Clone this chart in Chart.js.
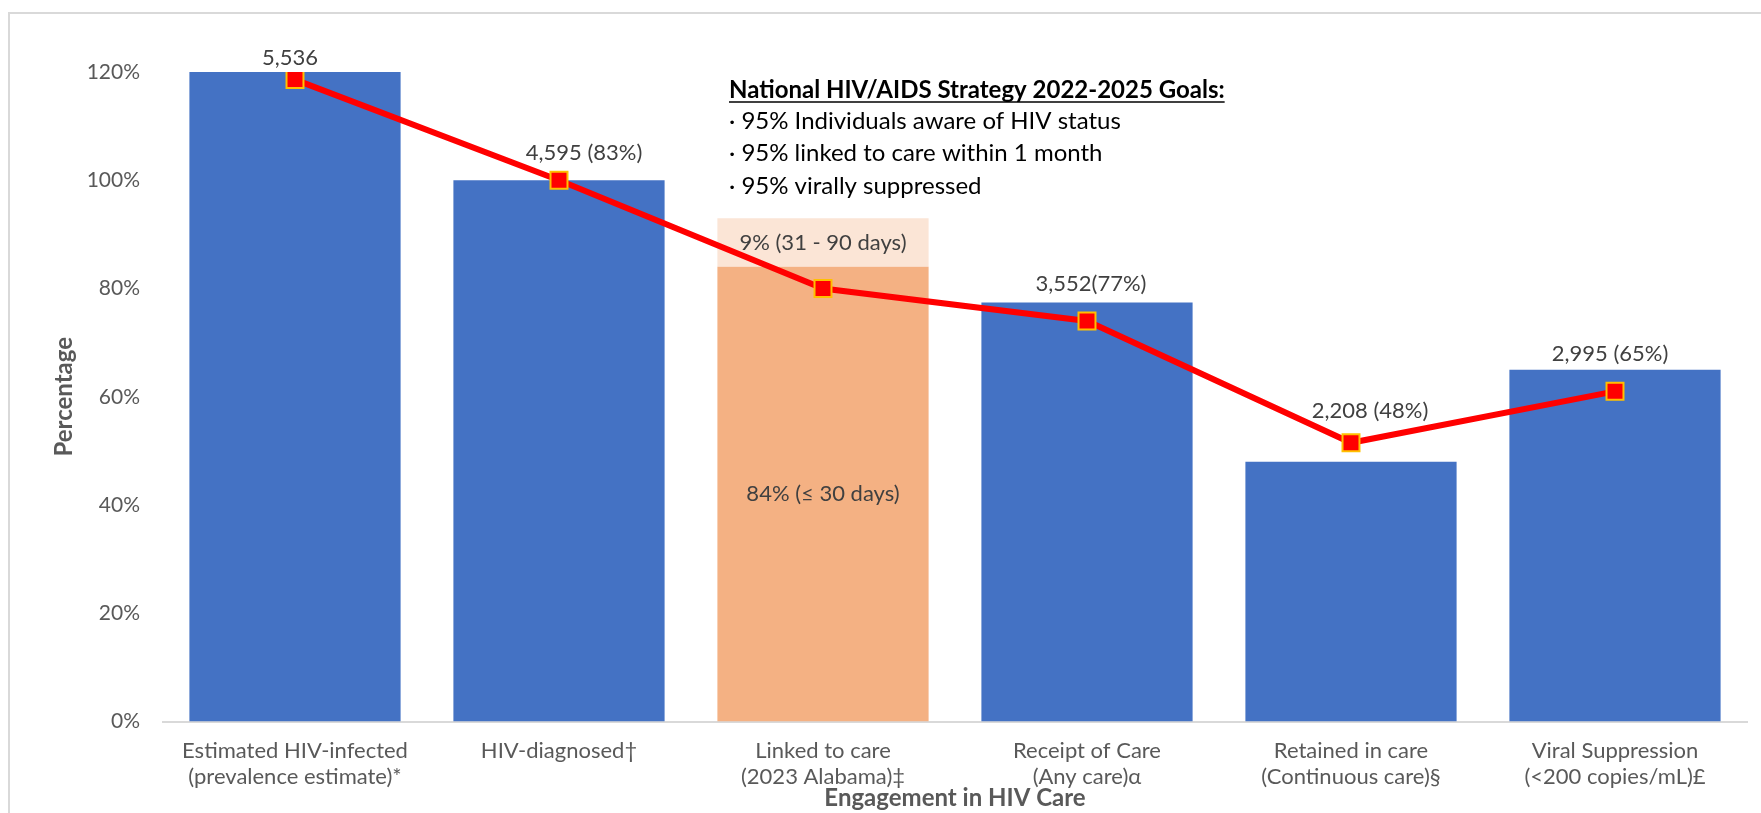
<!DOCTYPE html>
<html><head><meta charset="utf-8">
<script src="https://cdn.jsdelivr.net/npm/chart.js@4"></script>
<style>html,body{margin:0;padding:0;background:#fff;overflow:hidden}</style>
</head><body>
<canvas id="c" width="1761" height="813" style="display:block;width:1761px;height:813px"></canvas>
<script>
// ---- data ----
const categories = [
  ["Estimated HIV-infected", "(prevalence estimate)*"],
  ["HIV-diagnosed†"],
  ["Linked to care", "(2023 Alabama)‡"],
  ["Receipt of Care", "(Any care)α"],
  ["Retained in care", "(Continuous care)§"],
  ["Viral Suppression", "(<200 copies/mL)£"]
];
const cascadeValues = [120, 100, null, 77.4, 48, 65];
const linkedWithin30 = [null, null, 84, null, null, null];
const linked31to90 = [null, null, 9, null, null, null];
const trendValues = [118.6, 100, 80, 74, 51.5, 61];
const barLabels = ["5,536", "4,595 (83%)", "", "3,552(77%)", "2,208 (48%)", "2,995 (65%)"];
const linkedLabels = ["84% (≤ 30 days)", "9% (31 - 90 days)"];
const yTicks = [0, 20, 40, 60, 80, 100, 120];
const goalsTitle = "National HIV/AIDS Strategy 2022-2025 Goals:";
const goalsLines = ["· 95% Individuals aware of HIV status", "· 95% linked to care within 1 month", "· 95% virally suppressed"];

// ---- style ----
const FONT = "Lato, 'Open Sans', 'DejaVu Sans', sans-serif";
const labelDX = [-5, 25, 0, 4, 19, -5];
const labelDY = [-14, -27, 0, -19, -51, -16];

const framePlugin = {
  id: 'frame',
  beforeDraw(chart) {
    const ctx = chart.ctx;
    ctx.save();
    ctx.fillStyle = '#ffffff';
    ctx.fillRect(0, 0, chart.width, chart.height);
    ctx.strokeStyle = '#D9D9D9';
    ctx.lineWidth = 2;
    ctx.beginPath();
    ctx.moveTo(9, chart.height);
    ctx.lineTo(9, 13);
    ctx.lineTo(chart.width, 13);
    ctx.stroke();
    ctx.restore();
  }
};

const labelPlugin = {
  id: 'labels',
  afterDatasetsDraw(chart) {
    const ctx = chart.ctx;
    const area = chart.chartArea;
    ctx.save();
    ctx.textAlign = 'center';
    ctx.textBaseline = 'middle';
    ctx.fillStyle = '#404040';
    ctx.font = `22px ${FONT}`;
    const meta = chart.getDatasetMeta(0);
    barLabels.forEach((t, i) => {
      if (!t) return;
      const el = meta.data[i];
      ctx.fillText(t, el.x + labelDX[i], el.y + labelDY[i]);
    });
    [1, 2].forEach((di, k) => {
      const m = chart.getDatasetMeta(di);
      const el = m.data[2];
      ctx.fillText(linkedLabels[k], el.x, (el.y + el.base) / 2);
    });
    // goals text box
    const gx = area.left + 566;
    const gy = area.top + 18;
    ctx.textAlign = 'left';
    ctx.fillStyle = '#000000';
    ctx.font = `bold 24px ${FONT}`;
    ctx.fillText(goalsTitle, gx, gy);
    const w = ctx.measureText(goalsTitle).width;
    ctx.strokeStyle = '#000000';
    ctx.lineWidth = 1.5;
    ctx.beginPath();
    ctx.moveTo(gx, gy + 12);
    ctx.lineTo(gx + w, gy + 12);
    ctx.stroke();
    ctx.font = `24px ${FONT}`;
    goalsLines.forEach((t, i) => ctx.fillText(t, gx, gy + 31 + i * 32.5));
    ctx.restore();
  }
};

new Chart(document.getElementById('c'), {
  data: {
    labels: categories,
    datasets: [
      { type: 'bar', data: cascadeValues, backgroundColor: '#4472C4', stack: 'bars', order: 1,
        categoryPercentage: 0.8, barPercentage: 1.0 },
      { type: 'bar', data: linkedWithin30, backgroundColor: '#F4B183', stack: 'bars', order: 1,
        categoryPercentage: 0.8, barPercentage: 1.0 },
      { type: 'bar', data: linked31to90, backgroundColor: '#FBE5D6', stack: 'bars', order: 1,
        categoryPercentage: 0.8, barPercentage: 1.0 },
      { type: 'line', data: trendValues, stack: 'trend', order: 0,
        borderColor: '#FF0000', borderWidth: 6, tension: 0,
        pointStyle: 'rect', pointRadius: 12, pointBackgroundColor: '#FF0000',
        pointBorderColor: '#FFC000', pointBorderWidth: 2 }
    ]
  },
  options: {
    responsive: false,
    animation: false,
    devicePixelRatio: 1,
    layout: { padding: { left: 0, top: 72, right: 8, bottom: 0 } },
    plugins: { legend: { display: false }, tooltip: { enabled: false } },
    scales: {
      x: {
        stacked: true,
        grid: { display: false, drawTicks: false },
        border: { color: '#D9D9D9', width: 2 },
        ticks: { color: '#595959', font: { family: FONT, size: 22, lineHeight: 1.18 }, padding: 16.5,
                 maxRotation: 0, autoSkip: false },
        title: { display: true, text: 'Engagement in HIV Care', color: '#595959',
                 font: { family: FONT, size: 24, weight: 'bold' }, padding: { top: 0, bottom: 0.6 } },
        afterFit(s) { s.height = 91.5; }
      },
      y: {
        stacked: true,
        min: 0, max: 120,
        afterBuildTicks(s) { s.ticks = yTicks.map(v => ({ value: v })); },
        ticks: { color: '#595959', font: { family: FONT, size: 21 }, padding: 23, callback: v => v + '%' },
        grid: { display: false, drawTicks: false },
        border: { display: false },
        title: { display: true, text: 'Percentage', color: '#595959',
                 font: { family: FONT, size: 24, weight: 'bold' }, padding: { top: 49.6, bottom: 0 } },
        afterFit(s) { s.width = 163; }
      }
    }
  },
  plugins: [framePlugin, labelPlugin]
});
</script>
</body></html>
